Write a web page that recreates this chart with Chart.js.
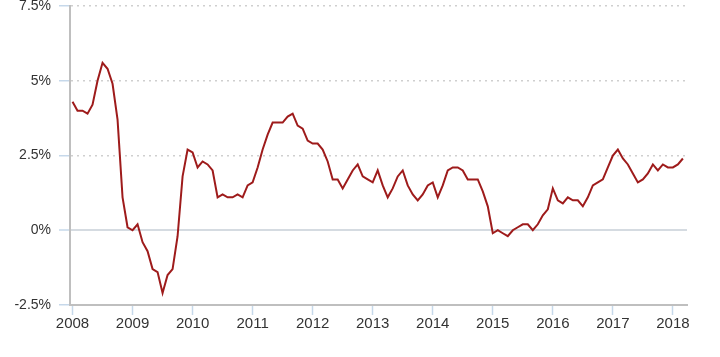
<!DOCTYPE html>
<html><head><meta charset="utf-8">
<script src="https://cdn.jsdelivr.net/npm/chart.js@4.4.1/dist/chart.umd.min.js"></script>
<style>html,body{margin:0;padding:0;background:#fff}canvas{display:block}</style>
</head><body>
<canvas id="c" width="720" height="357"></canvas>
<script>
// Monthly year-over-year inflation (%), Jan 2008 - Mar 2018
const y2008 = [4.3, 4.0, 4.0, 3.9, 4.2, 5.0, 5.6, 5.4, 4.9, 3.7, 1.1, 0.1];
const y2009 = [0.0, 0.2, -0.4, -0.7, -1.3, -1.4, -2.1, -1.5, -1.3, -0.2, 1.8, 2.7];
const y2010 = [2.6, 2.1, 2.3, 2.2, 2.0, 1.1, 1.2, 1.1, 1.1, 1.2, 1.1, 1.5];
const y2011 = [1.6, 2.1, 2.7, 3.2, 3.6, 3.6, 3.6, 3.8, 3.9, 3.5, 3.4, 3.0];
const y2012 = [2.9, 2.9, 2.7, 2.3, 1.7, 1.7, 1.4, 1.7, 2.0, 2.2, 1.8, 1.7];
const y2013 = [1.6, 2.0, 1.5, 1.1, 1.4, 1.8, 2.0, 1.5, 1.2, 1.0, 1.2, 1.5];
const y2014 = [1.6, 1.1, 1.5, 2.0, 2.1, 2.1, 2.0, 1.7, 1.7, 1.7, 1.3, 0.8];
const y2015 = [-0.1, 0.0, -0.1, -0.2, 0.0, 0.1, 0.2, 0.2, 0.0, 0.2, 0.5, 0.7];
const y2016 = [1.4, 1.0, 0.9, 1.1, 1.0, 1.0, 0.8, 1.1, 1.5, 1.6, 1.7, 2.1];
const y2017 = [2.5, 2.7, 2.4, 2.2, 1.9, 1.6, 1.7, 1.9, 2.2, 2.0, 2.2, 2.1];
const y2018 = [2.1, 2.2, 2.4];
const years = [2008, 2009, 2010, 2011, 2012, 2013, 2014, 2015, 2016, 2017, 2018];
const seriesByYear = [y2008, y2009, y2010, y2011, y2012, y2013, y2014, y2015, y2016, y2017, y2018];
const xTickYears = [2008, 2009, 2010, 2011, 2012, 2013, 2014, 2015, 2016, 2017, 2018];
const yTickValues = [-2.5, 0, 2.5, 5, 7.5];
const yTickLabels = ['-2.5%', '0%', '2.5%', '5%', '7.5%'];

const points = [];
years.forEach((yr, i) => {
  seriesByYear[i].forEach((v, m) => points.push({x: yr + m / 12, y: v}));
});

const tickBlue = '#c6d8ea';
const axisGray = '#bfbfbf';

new Chart(document.getElementById('c'), {
  type: 'line',
  data: {
    datasets: [{
      data: points,
      borderColor: '#9e1b1b',
      borderWidth: 2,
      pointRadius: 0,
      tension: 0,
      fill: false
    }]
  },
  options: {
    responsive: false,
    animation: false,
    layout: {padding: {top: 6, right: 33, left: 0, bottom: 0}},
    plugins: {legend: {display: false}, tooltip: {enabled: false}},
    scales: {
      x: {
        type: 'linear',
        min: 2007.958,
        max: 2018.235,
        afterBuildTicks: s => { s.ticks = xTickYears.map(v => ({value: v})); },
        afterFit: s => { s.height = 52; s.paddingLeft = 0; s.paddingRight = 0; },
        ticks: {
          callback: v => String(v),
          color: '#333',
          font: {family: 'Liberation Sans, Arial, sans-serif', size: 15},
          padding: 0,
          maxRotation: 0,
          autoSkip: false
        },
        grid: {
          drawOnChartArea: false,
          drawTicks: true,
          tickLength: 10,
          tickColor: tickBlue,
          tickWidth: 1.5,
          color: 'rgba(0,0,0,0)'
        },
        border: {display: true, color: axisGray, width: 2}
      },
      y: {
        min: -2.5,
        max: 7.5,
        afterBuildTicks: s => { s.ticks = yTickValues.map(v => ({value: v})); },
        afterFit: s => { s.width = 70; s.paddingTop = 0; s.paddingBottom = 0; },
        ticks: {
          callback: (v) => yTickLabels[yTickValues.indexOf(v)],
          color: '#333',
          font: {family: 'Liberation Sans, Arial, sans-serif', size: 14},
          padding: 8
        },
        grid: {
          drawTicks: true,
          tickLength: 11,
          tickColor: tickBlue,
          tickWidth: 1.5,
          tickBorderDash: [],
          color: c => (c.tick && c.tick.value === 0) ? '#d5dbe1' : (c.tick && c.tick.value === -2.5 ? 'rgba(0,0,0,0)' : '#cfcfcf'),
          lineWidth: c => (c.tick && c.tick.value === 0) ? 2 : 1.5
        },
        border: {
          display: true,
          color: axisGray,
          width: 2,
          dash: c => (c.tick && c.tick.value !== 0) ? [2, 4] : []
        }
      }
    }
  }
});
</script>
</body></html>
